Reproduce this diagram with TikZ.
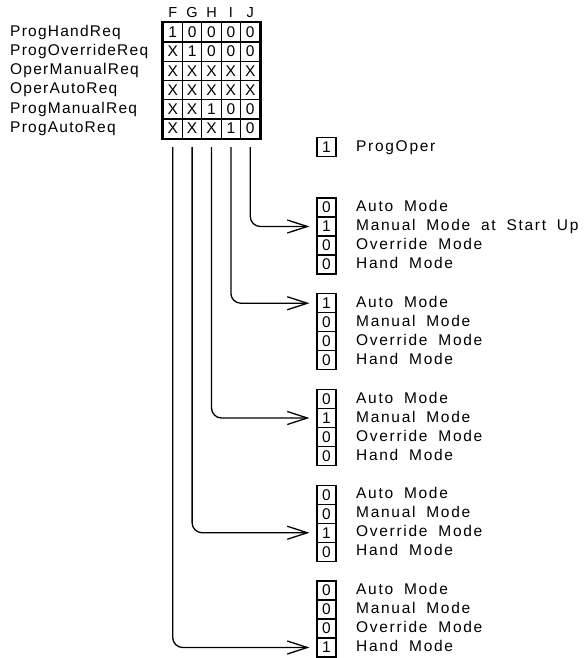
\documentclass[tikz,border=0pt]{standalone}
\usepackage{fontspec}
\setmainfont{Liberation Sans}[LetterSpace=16,WordSpace=1.8]
\usetikzlibrary{arrows.meta}

\begin{document}
\begin{tikzpicture}[
    x=1pt, y=-1pt,
    cell/.style={draw, line width=1.3pt, minimum width=19.4pt, minimum height=19.25pt, inner sep=0pt, font=\fontsize{15.5}{15.5}\selectfont},
    colhead/.style={inner sep=0pt, font=\fontsize{14.5}{14.5}\selectfont},
    reqlabel/.style={anchor=west, inner sep=0pt, text height=10.5pt, text depth=3pt, font=\fontsize{15.5}{15.5}\selectfont\addfontfeature{LetterSpace=8}},
    modebox/.style={draw, line width=1.2pt, minimum width=19pt, minimum height=19pt, inner sep=0pt, font=\fontsize{15.5}{15.5}\selectfont},
    modetext/.style={anchor=west, inner sep=0pt, text height=11pt, text depth=3pt, font=\fontsize{15.5}{15.5}\selectfont\addfontfeature{LetterSpace=11}},
    flow/.style={line width=1.3pt, rounded corners=10pt, -{Straight Barb[length=20pt, width=13pt]}, shorten >=7pt}
]
\useasboundingbox (0,0) rectangle (588,658);

% Column letters
\foreach \h [count=\c] in {F,G,H,I,J}
  \node[colhead] (head\c) at ({163+19.4*(\c-0.5)},13) {\h};

% Request names
\foreach \t [count=\r] in {ProgHandReq,ProgOverrideReq,OperManualReq,OperAutoReq,ProgManualReq,ProgAutoReq}
  \node[reqlabel] (req\r) at (10,{22.7+19.25*(\r-0.5)}) {\t};

% Truth table
\foreach \vals [count=\r] in {{1,0,0,0,0},{X,1,0,0,0},{X,X,X,X,X},{X,X,X,X,X},{X,X,1,0,0},{X,X,X,1,0}}
  \foreach \v [count=\c] in \vals
    \node[cell] (c\r\c) at ({163+19.4*(\c-0.5)},{22.7+19.25*(\r-0.5)}) {\v};
\draw[line width=2pt] (c11.north west) rectangle (c65.south east);

% Output
\node[modebox] (oper) at (326.5,147) {1};
\node[modetext] (opertext) at (356,147) {ProgOper};

% Mode blocks
\foreach \g/\bits/\second in {1/{0,1,0,0}/{Manual Mode at Start Up}, 2/{1,0,0,0}/{Manual Mode}, 3/{0,1,0,0}/{Manual Mode}, 4/{0,0,1,0}/{Manual Mode}, 5/{0,0,0,1}/{Manual Mode}} {
  \foreach \b [count=\k] in \bits
    \node[modebox] (m\g\k) at (326.5,{207.5+95.75*(\g-1)+19*(\k-1)}) {\b};
  \foreach \t [count=\k] in {Auto Mode,\second,Override Mode,Hand Mode}
    \node[modetext] (t\g\k) at (356,{207.5+95.75*(\g-1)+19*(\k-1)}) {\t};
}

% Columns down to the mode blocks
\foreach \c in {1,...,5}
  \coordinate (top\c) at ({163+19.4*(\c-0.5)},147);
\foreach \c/\g/\k in {5/1/2, 4/2/1, 3/3/2, 2/4/3, 1/5/4}
  \draw[flow] (top\c) |- (m\g\k.west);

\end{tikzpicture}
\end{document}
